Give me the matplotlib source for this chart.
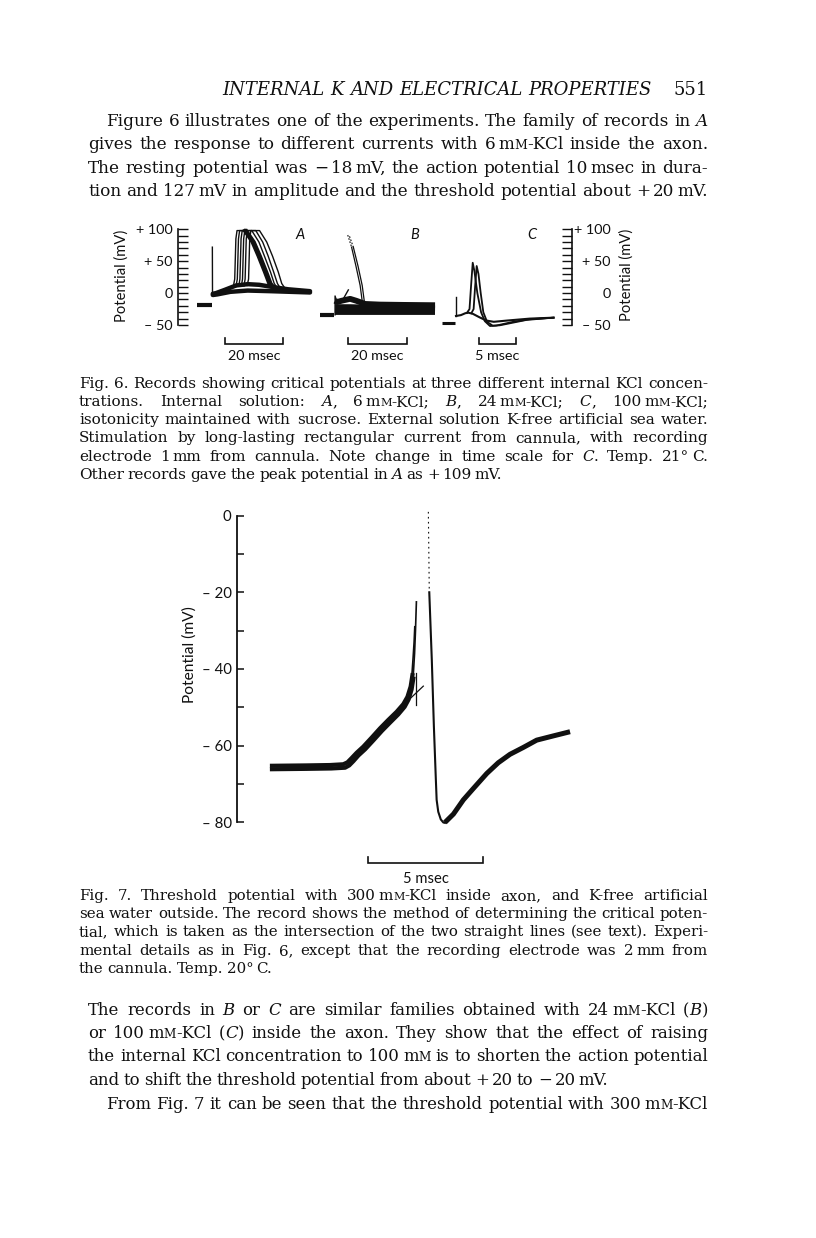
import matplotlib
matplotlib.use('Agg')
import matplotlib.pyplot as plt
from matplotlib.ticker import FixedLocator, FixedFormatter

plt.rcParams['font.family'] = ['Lato', 'DejaVu Sans']
SERIF = ['DejaVu Serif', 'Liberation Serif']

# ---------------------------------------------------------------- data
# Fig. 6 voltage scale
f6_major = [-50, 0, 50, 100]
f6_major_labels = ['\u2013 50', '0', '+ 50', '+ 100']
f6_minor = [-40, -30, -20, -10, 10, 20, 30, 40, 60, 70, 80, 90]

# Fig. 6 A (6 mM-KCl), time in ms, potential in mV
a_rest_t = [2.3, 7.5]
a_rest_v = [-18, -18]
a_stim_t = [7.75, 7.8, 8.3, 9.5]
a_stim_v = [72, 0, -4, -3]
a_sub1_t = [7.9, 9.0, 12.0, 16.0, 20.0, 24.0, 28.0, 34.0, 41.6]
a_sub1_v = [-1, 0, 5, 12, 14, 13, 10, 6, 3]
a_sub2_t = [7.9, 9.5, 14.0, 20.0, 28.0, 41.6]
a_sub2_v = [-3, -2, 2, 4, 3, 1]
a_ap_t = [
    [15.0, 15.5, 15.9, 16.3, 18.8, 21.5, 23.6, 25.8, 27.3, 28.6, 30.0],
    [15.9, 16.4, 16.8, 17.2, 19.2, 21.9, 24.0, 26.2, 27.7, 29.0, 30.4],
    [16.9, 17.3, 17.7, 18.1, 19.6, 22.3, 24.4, 26.6, 28.1, 29.4, 30.8],
    [17.8, 18.2, 18.6, 19.0, 21.4, 23.9, 25.8, 27.9, 29.2, 30.4, 31.8],
    [18.7, 19.1, 19.5, 19.9, 22.8, 25.2, 27.1, 29.0, 30.3, 31.4, 32.8],
    [19.8, 20.3, 20.7, 21.1, 24.1, 26.6, 28.6, 30.6, 31.8, 33.0, 34.4],
]
a_ap_v = [
    [10, 22, 85, 98, 98, 80, 58, 33, 15, 8, 6],
    [10, 22, 85, 98, 98, 80, 58, 33, 15, 8, 6],
    [11, 22, 85, 98, 98, 80, 58, 33, 15, 8, 6],
    [11, 22, 85, 98, 98, 80, 58, 33, 15, 7, 5],
    [11, 22, 85, 98, 98, 80, 58, 33, 15, 7, 5],
    [12, 22, 85, 98, 98, 80, 58, 33, 15, 7, 5],
]

# Fig. 6 B (24 mM-KCl)
b_rest_t = [1.7, 6.4]
b_rest_v = [-34, -34]
b_stim_t = [6.8, 6.8, 7.3]
b_stim_v = [-34, -4.5, -12]
b_band_t = [
    [6.8, 7.5, 9.0, 11.9, 14.0, 17.0, 22.0, 30.0, 40.7],
    [6.8, 12.0, 20.0, 40.7],
    [6.8, 15.0, 40.7],
]
b_band_v = [
    [-12, -14, -12, -9, -12, -17, -18, -18.5, -19],
    [-22, -22, -23, -24],
    [-29, -29, -29],
]
b_kink_t = [9.6, 11.3]
b_kink_v = [-9, 5]
b_ap_t = [[11.1, 12.4, 13.9, 15.3, 16.1], [11.7, 13.0, 14.6, 16.0, 16.8]]
b_ap_v = [[91, 72, 42, 12, -16], [89, 72, 42, 12, -16]]

# Fig. 6 C (100 mM-KCl)
c_rest_t = [0.23, 2.0]
c_rest_v = [-46.4, -46.4]
c_stim_t = [2.14, 2.14]
c_stim_v = [-5.6, -35.9]
c_sub_t = [2.14, 2.8, 3.4, 3.8, 4.4, 5.3, 6.2, 7.2, 9.0, 12.0, 15.2]
c_sub_v = [-35.9, -34.5, -31.5, -30.7, -32.5, -38, -43, -45, -43, -40, -38.5]
c_ap_t = [
    [3.6, 3.95, 4.15, 4.38, 4.6, 5.0, 5.5, 6.0, 6.69, 7.5, 9.8, 12.0, 15.2],
    [4.2, 4.5, 4.7, 4.91, 5.15, 5.45, 5.8, 6.3, 7.05, 8.0, 11.6, 15.2],
]
c_ap_v = [
    [-31, -25, 10, 47.6, 35, 0, -30, -44, -51.6, -51, -45, -41, -38.5],
    [-31.5, -25, 10, 42.5, 30, 0, -30, -45, -51, -50.5, -42, -38.5],
]

# Fig. 6 time bars
f6_bar_start = [12.1, 11.2, 5.22]
f6_bar_len = [20, 20, 5]
f6_bar_labels = ['20 msec', '20 msec', '5 msec']
f6_panel_labels = ['A', 'B', 'C']

# Fig. 7 (300 mM-KCl)
f7_major = [-80, -60, -40, -20, 0]
f7_major_labels = ['\u2013 80', '\u2013 60', '\u2013 40', '\u2013 20', '0']
f7_minor = [-70, -50, -30, -10]
f7_ramp_t = [
    [1.43, 3.0, 4.04, 4.62, 4.80, 4.98, 5.20, 5.49, 5.86, 6.22, 6.58, 6.94, 7.23, 7.41, 7.55, 7.64],
    [1.43, 3.0, 4.10, 4.70, 4.88, 5.06, 5.28, 5.57, 5.94, 6.30, 6.66, 7.01, 7.29, 7.46, 7.59, 7.68],
]
f7_ramp_v = [
    [-65.3, -65.2, -65.1, -64.9, -64.4, -63.3, -61.9, -60.3, -57.9, -55.5, -53.3, -51.2, -49.2, -47.3, -44.6, -41.1],
    [-66.2, -66.1, -66.0, -65.8, -65.2, -64.1, -62.6, -61.0, -58.6, -56.2, -54.0, -51.9, -49.9, -48.0, -45.4, -42.0],
]
f7_spike_t = [[7.60, 7.66, 7.70, 7.73], [7.66, 7.72, 7.76, 7.80]]
f7_spike_v = [[-42, -36.8, -33, -29], [-42, -36, -30, -22.5]]
f7_ap_dot_t = [8.32, 8.36]
f7_ap_dot_v = [1, -20]
f7_fall_t = [8.36, 8.47, 8.56, 8.64, 8.68, 8.75, 8.86, 8.97, 9.04]
f7_fall_v = [-20, -37.7, -55, -68, -74.2, -77.3, -79.3, -80.1, -80.2]
f7_rec_t = [9.04, 9.41, 9.84, 10.28, 10.86, 11.36, 11.87, 12.45, 13.03, 13.75, 14.48]
f7_rec_v = [-80.1, -77.9, -74.2, -71.2, -67.3, -64.5, -62.3, -60.5, -58.6, -57.5, -56.4]
f7_line1_t = [7.80, 7.80]
f7_line1_v = [-41, -49.4]
f7_line2_t = [7.38, 8.10]
f7_line2_v = [-48.6, -44.5]
f7_bar_start = 5.70
f7_bar_len = 5
f7_bar_label = '5 msec'

# ---------------------------------------------------------------- text
header = 'INTERNAL K AND ELECTRICAL PROPERTIES'
page_no = '551'
para1 = [
    'Figure 6 illustrates one of the experiments. The family of records in _A_',
    'gives the response to different currents with 6~m^M^-KCl inside the axon.',
    'The resting potential was \u2212~18~mV, the action potential 10~msec in dura-',
    'tion and 127~mV in amplitude and the threshold potential about +~20~mV.',
]
cap6 = [
    'Fig. 6. Records showing critical potentials at three different internal KCl concen-',
    'trations. Internal solution: _A_, 6~m^M^-KCl; _B_, 24~m^M^-KCl; _C_, 100~m^M^-KCl;',
    'isotonicity maintained with sucrose. External solution K-free artificial sea water.',
    'Stimulation by long-lasting rectangular current from cannula, with recording',
    'electrode 1~mm from cannula. Note change in time scale for _C_. Temp. 21\u00b0~C.',
    'Other records gave the peak potential in _A_ as +~109~mV.',
]
cap7 = [
    'Fig. 7. Threshold potential with 300~m^M^-KCl inside axon, and K-free artificial',
    'sea water outside. The record shows the method of determining the critical poten-',
    'tial, which is taken as the intersection of the two straight lines (see text). Experi-',
    'mental details as in Fig. 6, except that the recording electrode was 2~mm from',
    'the cannula. Temp. 20\u00b0~C.',
]
para2 = [
    'The records in _B_ or _C_ are similar families obtained with 24~m^M^-KCl (_B_)',
    'or 100~m^M^-KCl (_C_) inside the axon. They show that the effect of raising',
    'the internal KCl concentration to 100~m^M^ is to shorten the action potential',
    'and to shift the threshold potential from about +~20 to \u2212~20~mV.',
    'From Fig. 7 it can be seen that the threshold potential with 300~m^M^-KCl',
]

# ---------------------------------------------------------------- figure
W, H = 816, 1238
fig = plt.figure(figsize=(W / 100, H / 100), dpi=100)
fig.patch.set_facecolor('white')
bg = fig.add_axes([0, 0, 1, 1])
bg.set_xlim(0, W)
bg.set_ylim(H, 0)
bg.axis('off')
renderer = fig.canvas.get_renderer()
INK = '#101010'


def px_axes(x0, y0, x1, y1):
    ax = fig.add_axes([x0 / W, 1 - y1 / H, (x1 - x0) / W, (y1 - y0) / H])
    ax.patch.set_alpha(0)
    return ax


def parse_word(w):
    pieces, cur, style = [], '', 'n'
    for ch in w:
        if ch in '_^':
            if cur:
                pieces.append((cur, style))
                cur = ''
            new = 'i' if ch == '_' else 's'
            style = 'n' if style == new else new
        elif ch == '~':
            if cur:
                pieces.append((cur, style))
                cur = ''
            pieces.append((None, 'thin'))
        else:
            cur += ch
    if cur:
        pieces.append((cur, style))
    return pieces


def build_word(w, size, italic_all=False):
    items = []
    for s, st in parse_word(w):
        if st == 'thin':
            items.append((None, 0.18 * size * 100 / 72))
            continue
        it = (st == 'i') != italic_all
        t = bg.text(0, 0, s, fontsize=size * (0.74 if st == 's' else 1.0),
                    family=SERIF, fontstyle='italic' if it else 'normal',
                    ha='left', va='baseline', color=INK)
        items.append((t, t.get_window_extent(renderer).width))
    return items


def natural_width(line, size, italic_all=False):
    total, n = 0.0, 0
    for w in line.split(' '):
        for t, wp in build_word(w, size, italic_all):
            total += wp
            if t is not None:
                t.remove()
        n += 1
    return total + (n - 1) * 0.25 * size * 100 / 72


def fit_size(lines, spans, size, italic_all=False):
    r = max(natural_width(l, size, italic_all) / (x1 - x0) for l, (x0, x1) in zip(lines, spans))
    return size if r < 0.985 else size * 0.985 / r


def text_line(line, y, x0, x1, size, justify=True, italic_all=False):
    words = [build_word(w, size, italic_all) for w in line.split(' ')]
    widths = [sum(wp for _, wp in it) for it in words]
    if justify and len(words) > 1:
        gap = (x1 - x0 - sum(widths)) / (len(words) - 1)
    else:
        gap = 0.25 * size * 100 / 72
    x = x0
    for it, wd in zip(words, widths):
        xx = x
        for t, wp in it:
            if t is not None:
                t.set_position((xx, y))
            xx += wp
        x += wd + gap


def text_block(lines, ys, spans, size, justify_flags, italic_all=False):
    s = fit_size(lines, spans, size, italic_all)
    for l, y, (x0, x1), j in zip(lines, ys, spans, justify_flags):
        text_line(l, y, x0, x1, s, j, italic_all)


# header
text_block([header], [95], [(222, 652)], 13, [True], italic_all=True)
bg.text(708, 95, page_no, ha='right', va='baseline', family=SERIF, fontsize=13, color=INK)

# first paragraph
text_block(para1, [126, 149, 173, 196],
           [(106, 708), (88, 708), (88, 708), (88, 708)], 14.2, [True] * 4)

# Fig. 6 caption
text_block(cap6, [388, 406, 424, 442, 461, 479], [(79, 708)] * 6, 11.8,
           [True] * 5 + [False])

# Fig. 7 caption
text_block(cap7, [900, 918, 936, 955, 973], [(79, 708)] * 5, 11.8,
           [True] * 4 + [False])

# second paragraph
text_block(para2, [1015, 1038, 1061, 1085, 1109],
           [(88, 708), (88, 708), (88, 708), (88, 708), (106, 708)], 14.2,
           [True, True, True, False, True])

# ---------------------------------------------------------------- Fig. 6
F6_Y0, F6_Y1 = 222, 364
F6_ZERO, F6_PPV = 293.1, 0.638


def f6v(y):
    return (F6_ZERO - y) / F6_PPV


def f6_panel(x0, x1, origin, ppm):
    ax = px_axes(x0, F6_Y0, x1, F6_Y1)
    ax.set_xlim((x0 - origin) / ppm, (x1 - origin) / ppm)
    ax.set_ylim(f6v(F6_Y1), f6v(F6_Y0))
    ax.axis('off')
    return ax


# left scale
axL = px_axes(178, F6_Y0, 200, F6_Y1)
axL.set_ylim(f6v(F6_Y1), f6v(F6_Y0))
for s in ['top', 'right', 'bottom']:
    axL.spines[s].set_visible(False)
axL.spines['left'].set_bounds(-50, 100)
axL.spines['left'].set_linewidth(1.2)
axL.spines['left'].set_color(INK)
axL.set_xticks([])
axL.yaxis.set_major_locator(FixedLocator(f6_major))
axL.yaxis.set_major_formatter(FixedFormatter(f6_major_labels))
axL.yaxis.set_minor_locator(FixedLocator(f6_minor))
axL.tick_params(axis='y', which='both', direction='in', length=7, width=1.0,
                pad=4, labelsize=10.4, color=INK, labelcolor=INK)

# right scale
axR = px_axes(550, F6_Y0, 572, F6_Y1)
axR.set_ylim(f6v(F6_Y1), f6v(F6_Y0))
for s in ['top', 'left', 'bottom']:
    axR.spines[s].set_visible(False)
axR.spines['right'].set_bounds(-50, 100)
axR.spines['right'].set_linewidth(1.2)
axR.spines['right'].set_color(INK)
axR.set_xticks([])
axR.yaxis.tick_right()
axR.yaxis.set_major_locator(FixedLocator(f6_major))
axR.yaxis.set_major_formatter(FixedFormatter(f6_major_labels))
axR.yaxis.set_minor_locator(FixedLocator(f6_minor))
axR.tick_params(axis='y', which='both', direction='in', length=7, width=1.0,
                pad=28, labelsize=10.4, color=INK, labelcolor=INK)
plt.setp(axR.get_yticklabels(), ha='right')

bg.text(122, 276, 'Potential (mV)', rotation=90, ha='center', va='center', fontsize=10.6, color=INK)
bg.text(627, 275, 'Potential (mV)', rotation=90, ha='center', va='center', fontsize=10.6, color=INK)

axA = f6_panel(185, 322, 190, 2.885)
axB = f6_panel(316, 440, 315, 2.95)
axC = f6_panel(438, 560, 440, 7.47)

# A
axA.plot(a_rest_t, a_rest_v, color=INK, lw=3.0, solid_capstyle='butt')
axA.plot(a_stim_t, a_stim_v, color=INK, lw=1.0)
axA.plot(a_sub1_t, a_sub1_v, color=INK, lw=3.2, solid_capstyle='round')
axA.plot(a_sub2_t, a_sub2_v, color=INK, lw=3.2, solid_capstyle='round')
for tt, vv in zip(a_ap_t, a_ap_v):
    axA.plot(tt, vv, color=INK, lw=1.0, solid_joinstyle='round')
for tt, vv in zip(a_ap_t[:3], a_ap_v[:3]):
    axA.plot(tt[4:], vv[4:], color=INK, lw=2.2, solid_joinstyle='round')

# B
axB.plot(b_rest_t, b_rest_v, color=INK, lw=3.0, solid_capstyle='butt')
axB.plot(b_stim_t, b_stim_v, color=INK, lw=1.0)
for tt, vv in zip(b_band_t, b_band_v):
    axB.plot(tt, vv, color=INK, lw=4.2, solid_capstyle='butt')
axB.plot(b_kink_t, b_kink_v, color=INK, lw=1.0)
for tt, vv in zip(b_ap_t, b_ap_v):
    axB.plot(tt[:2], vv[:2], color=INK, lw=0.8, ls=(0, (1.5, 1.5)))
    axB.plot(tt[1:], vv[1:], color=INK, lw=0.9)

# C
axC.plot(c_rest_t, c_rest_v, color=INK, lw=2.2, solid_capstyle='butt')
axC.plot(c_stim_t, c_stim_v, color=INK, lw=1.0)
axC.plot(c_sub_t, c_sub_v, color=INK, lw=1.5)
for tt, vv in zip(c_ap_t, c_ap_v):
    axC.plot(tt, vv, color=INK, lw=1.3, solid_joinstyle='round')

# time bars and panel letters
for ax, t0, ln, lab in zip([axA, axB, axC], f6_bar_start, f6_bar_len, f6_bar_labels):
    ax.plot([t0, t0, t0 + ln, t0 + ln], [-71, -80, -80, -71], color=INK, lw=1.2,
            clip_on=False, solid_joinstyle='miter')
    ax.text(t0 + ln / 2, f6v(356), lab, ha='center', va='center', fontsize=10.4, color=INK)
for (x, y), lab in zip([(300, 235), (415, 235), (532, 235)], f6_panel_labels):
    bg.text(x, y, lab, ha='center', va='center', fontsize=10.5, fontstyle='italic', color=INK)

# ---------------------------------------------------------------- Fig. 7
F7_ZERO, F7_PPV, F7_X0, F7_PPM = 515.7, 3.83, 237, 23.0


def f7v(y):
    return -(y - F7_ZERO) / F7_PPV


ax7 = px_axes(F7_X0, 505, 600, 900)
ax7.set_xlim(0, (600 - F7_X0) / F7_PPM)
ax7.set_ylim(f7v(900), f7v(505))
for s in ['top', 'right', 'bottom']:
    ax7.spines[s].set_visible(False)
ax7.spines['left'].set_bounds(-80, 0)
ax7.spines['left'].set_linewidth(1.3)
ax7.spines['left'].set_color(INK)
ax7.set_xticks([])
ax7.yaxis.set_major_locator(FixedLocator(f7_major))
ax7.yaxis.set_major_formatter(FixedFormatter(f7_major_labels))
ax7.yaxis.set_minor_locator(FixedLocator(f7_minor))
ax7.tick_params(axis='y', which='both', direction='in', length=5.3, width=1.1,
                pad=3.8, labelsize=10.8, color=INK, labelcolor=INK)
bg.text(190, 655, 'Potential (mV)', rotation=90, ha='center', va='center', fontsize=11.2, color=INK)

for tt, vv in zip(f7_ramp_t, f7_ramp_v):
    ax7.plot(tt, vv, color=INK, lw=3.0, solid_capstyle='butt', solid_joinstyle='round')
for tt, vv in zip(f7_spike_t, f7_spike_v):
    ax7.plot(tt, vv, color=INK, lw=1.2)
ax7.plot(f7_ap_dot_t, f7_ap_dot_v, color=INK, lw=0.8, ls=(0, (1.5, 3)))
ax7.plot(f7_fall_t, f7_fall_v, color=INK, lw=1.5, solid_joinstyle='round')
ax7.plot(f7_rec_t, f7_rec_v, color=INK, lw=3.6, solid_capstyle='butt', solid_joinstyle='round')
ax7.plot(f7_line1_t, f7_line1_v, color=INK, lw=0.9)
ax7.plot(f7_line2_t, f7_line2_v, color=INK, lw=0.9)

ax7.plot([f7_bar_start, f7_bar_start, f7_bar_start + f7_bar_len, f7_bar_start + f7_bar_len],
         [-89.0, -90.6, -90.6, -89.0], color=INK, lw=1.2, solid_joinstyle='miter')
ax7.text(f7_bar_start + f7_bar_len / 2, f7v(879), f7_bar_label, ha='center', va='center',
         fontsize=10.6, color=INK)

fig.savefig('out.png', dpi=100, facecolor='white')
